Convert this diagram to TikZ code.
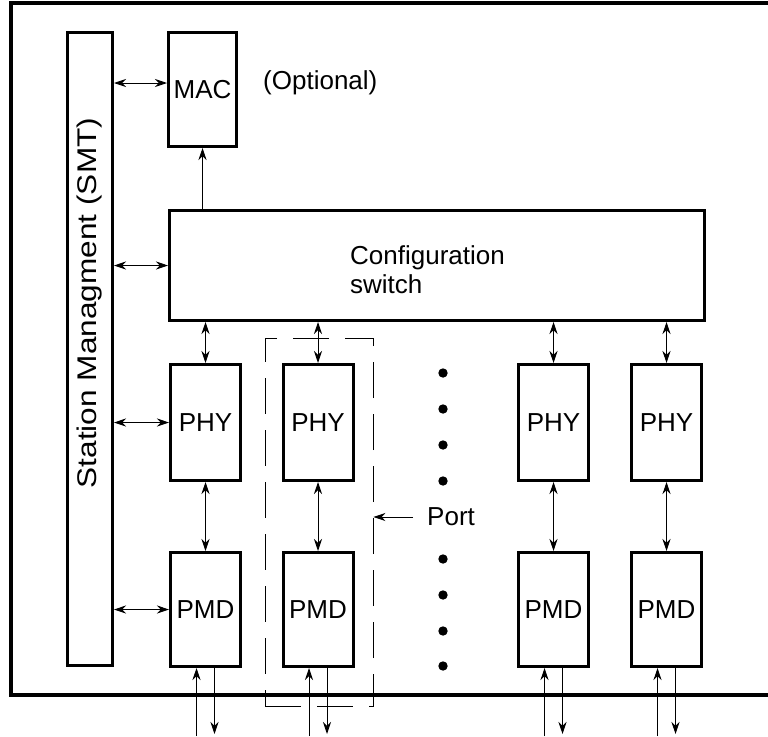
\documentclass[tikz,border=0pt]{standalone}
\usepackage{fontspec}
\setmainfont{Liberation Sans}
\usetikzlibrary{arrows.meta}

\begin{document}
\begin{tikzpicture}[x=1pt,y=-1pt,
  font=\fontsize{26}{29}\selectfont,
  >={Stealth[length=12pt,width=8pt]},
  blk/.style={draw,line width=3pt,inner sep=0pt},
  lnk/.style={line width=0.9pt},
  txt/.style={inner sep=0pt}]
  \useasboundingbox (0,0) rectangle (768,736);
  \draw[line width=3.5pt] (768,3) -- (11,3) -- (11,695) -- (768,695);
  \node[blk,minimum width=45.5pt,minimum height=633pt] (smt) at (89.75,349) {};
  \node[txt,rotate=90,xscale=1.17,font=\fontsize{27}{30}\selectfont] (smtlbl) at ([yshift=46pt]smt.center) {Station Managment (SMT)};
  \node[blk,minimum width=68pt,minimum height=114pt] (mac) at (202.5,89.5) {MAC};
  \node[txt,anchor=west] (opt) at (263,83) {(Optional)};
  \node[blk,minimum width=535pt,minimum height=110pt] (cfg) at (437,265.5) {};
  \node[txt,align=left,anchor=west] (cfgtxt) at ([xshift=-87pt,yshift=-4pt]cfg.center) {Configuration\\switch};
  \node[draw,line width=0.9pt,dash pattern=on 36pt off 16pt,minimum width=108pt,minimum height=368pt] (port) at (319,522) {};
  \node[txt,anchor=west,inner xsep=14pt] (portlbl) at (413,517) {Port};
  \draw[lnk,<->] (smt.east |- opt.west) -- (mac.west |- opt.west);
  \draw[lnk,->] (mac.south |- cfg.north) -- (mac.south);
  \draw[lnk,<->] (smt.east |- cfg.west) -- (cfg.west);
  \draw[lnk,->] (portlbl.west) -- (port.east |- portlbl.west);
  \foreach \p/\x in {a/205.5,b/318,c/553.5,d/666.5} {
    \node[blk,minimum width=70pt,minimum height=116pt] (phy\p) at (\x,422.5) {PHY};
    \node[blk,minimum width=70pt,minimum height=114pt] (pmd\p) at (\x,609.5) {PMD};
    \draw[lnk,<->] (cfg.south -| phy\p.north) -- (phy\p.north);
    \draw[lnk,<->] (phy\p.south) -- (pmd\p.north);
    \path (pmd\p.south) ++(-9,68) coordinate (in\p);
    \path (pmd\p.south) ++(9,66) coordinate (out\p);
    \draw[lnk,->] (in\p) -- (in\p |- pmd\p.south);
    \draw[lnk,->] (out\p |- pmd\p.south) -- (out\p);
  }
  \draw[lnk,<->] (smt.east |- phya.west) -- (phya.west);
  \draw[lnk,<->] (smt.east |- pmda.west) -- (pmda.west);
  \foreach \y in {373,409,445,481,559,595,631,666}
    \fill (443,\y) circle (4.7pt);
\end{tikzpicture}
\end{document}
